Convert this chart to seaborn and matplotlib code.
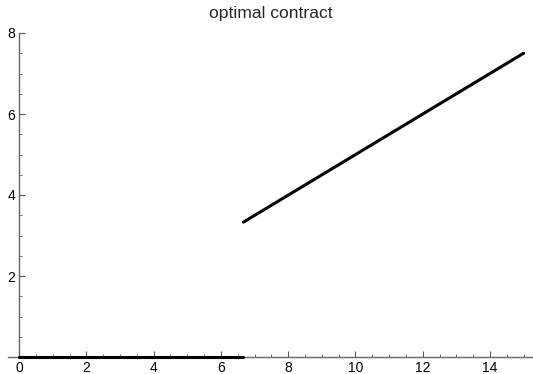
import numpy as np
import pandas as pd
import matplotlib
matplotlib.use("Agg")
import matplotlib.pyplot as plt
import seaborn as sns
from matplotlib.ticker import MultipleLocator

# piecewise contract: zero below the threshold, linear above
x_low = [0, 6.67]
y_low = [0, 0]
x_high = [6.67, 15]
y_high = [3.33, 7.5]

sns.set_style("ticks")
plt.rcParams['font.family'] = ['Liberation Sans', 'DejaVu Sans']

fig = plt.figure(figsize=(5.33, 3.74), dpi=100)
ax = fig.add_axes([8 / 533, 17 / 374, 525 / 533, 324 / 374])

low = pd.DataFrame({'x': x_low, 'y': y_low})
high = pd.DataFrame({'x': x_high, 'y': y_high})
sns.lineplot(data=low, x='x', y='y', ax=ax, color='black', linewidth=2.2,
             sort=False, estimator=None, clip_on=False, zorder=5)
sns.lineplot(data=high, x='x', y='y', ax=ax, color='black', linewidth=2.2,
             sort=False, estimator=None, clip_on=False, zorder=5)

ax.set_xlim(-0.33, 15.28)
ax.set_ylim(0, 8)
ax.spines['left'].set_position(('data', 0))
ax.spines['bottom'].set_position(('data', 0))
ax.spines['top'].set_visible(False)
ax.spines['right'].set_visible(False)
for s in ['left', 'bottom']:
    ax.spines[s].set_color('#666666')
    ax.spines[s].set_linewidth(1.0)

ax.xaxis.set_major_locator(MultipleLocator(2))
ax.xaxis.set_minor_locator(MultipleLocator(0.5))
ax.yaxis.set_major_locator(MultipleLocator(2))
ax.yaxis.set_minor_locator(MultipleLocator(0.5))
ax.set_xticks([0, 2, 4, 6, 8, 10, 12, 14])
ax.set_yticks([2, 4, 6, 8])
ax.tick_params(which='major', direction='in', length=4, width=0.8, color='#555555',
               labelsize=10, labelcolor='black', pad=3)
ax.tick_params(which='minor', direction='in', length=2.5, width=0.6, color='#555555')
ax.set_xlabel('')
ax.set_ylabel('')
ax.set_title('optimal contract', fontsize=12.6, pad=11)

fig.savefig('out.png', dpi=100)
